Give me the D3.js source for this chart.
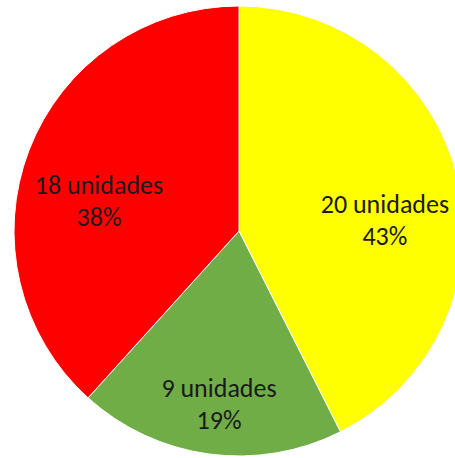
<!DOCTYPE html>
<html lang="es">
<head>
  <meta charset="UTF-8" />
  <title>Unidades</title>
  <script src="https://d3js.org/d3.v7.min.js"></script>
  <style>
    html, body { margin: 0; padding: 0; background: #fff; }
    svg { display: block; }
    .lbl { font-family: Carlito, "Open Sans", "Noto Sans", sans-serif; font-size: 26px; fill: #1a1a1a; }
  </style>
</head>
<body>
<svg width="455" height="458"></svg>
<script>
  const categories = ["A", "B", "C"];
  const values = [20, 9, 18];
  const percents = ["43%", "19%", "38%"];
  const colors = ["#ffff00", "#70ad47", "#ff0000"];

  const svg = d3.select("svg");
  const cx = 239, cy = 231, r = 225;
  const g = svg.append("g").attr("transform", `translate(${cx},${cy})`);

  const data = categories.map((c, i) => ({ cat: c, value: values[i], pct: percents[i], color: colors[i] }));
  const pie = d3.pie().value(d => d.value).sort(null);
  const arc = d3.arc().innerRadius(0).outerRadius(r);
  const labelArc = d3.arc().innerRadius(150).outerRadius(150);

  const arcs = pie(data);

  g.selectAll("path")
    .data(arcs).join("path")
    .attr("d", arc)
    .attr("fill", d => d.data.color)
    .attr("stroke", "#fff").attr("stroke-width", 1);

  const lbl = g.selectAll("text")
    .data(arcs).join("text")
    .attr("class", "lbl")
    .attr("text-anchor", "middle")
    .attr("transform", d => {
      const [x, y] = labelArc.centroid(d);
      return `translate(${x},${y + 17})`;
    });
  lbl.append("tspan").attr("x", 0).attr("y", 0).text(d => d.value + " unidades");
  lbl.append("tspan").attr("x", 0).attr("y", 32).text(d => d.data.pct);
</script>
</body>
</html>
